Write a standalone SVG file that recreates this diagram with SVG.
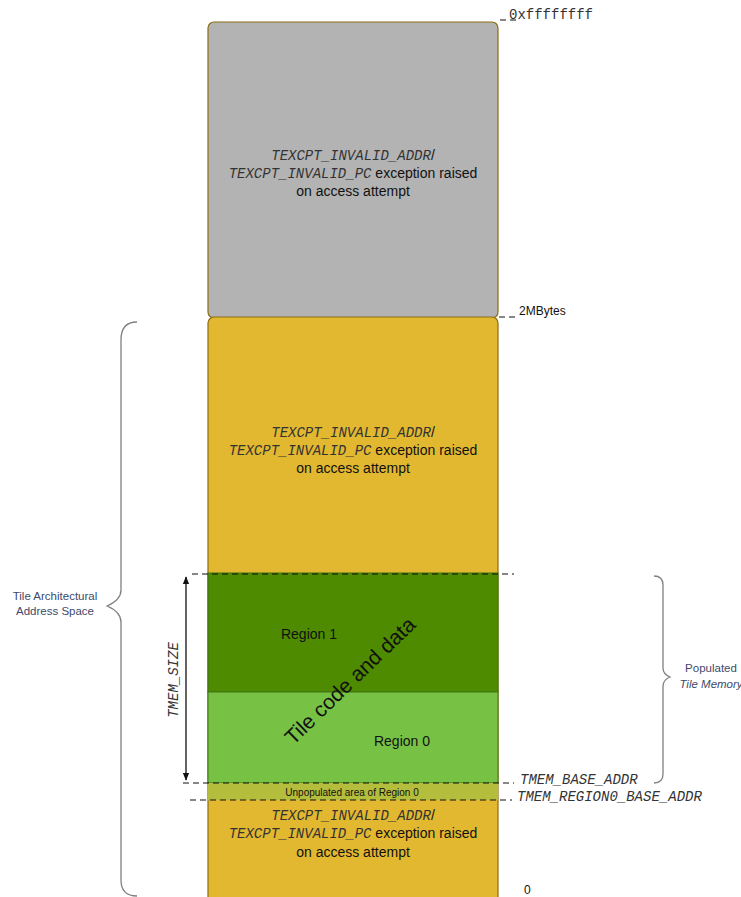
<svg xmlns="http://www.w3.org/2000/svg" width="741" height="897" viewBox="0 0 741 897">
<defs>
<style>
.box{stroke:#8c6d12;stroke-width:1.2}
.sans{font-family:"Liberation Sans",Arial,sans-serif;fill:#111}
.mono{font-family:"Liberation Mono","Courier New",monospace;font-style:italic;fill:#333}
.dash{stroke:#111;stroke-width:1.2;stroke-dasharray:6,4;fill:none}
.brace{stroke:#808080;stroke-width:1.3;fill:none}
.lbl{font-family:"Liberation Sans",Arial,sans-serif;fill:#3d4a6b;font-size:11.5px}
</style>
<marker id="ah" viewBox="0 0 10 10" refX="9" refY="5" markerWidth="8" markerHeight="8" orient="auto-start-reverse" markerUnits="userSpaceOnUse"><path d="M0,1 L10,5 L0,9 Z" fill="#111"/></marker>
</defs>
<g id="gray-region">
<rect class="box" x="208" y="22" width="290" height="296" rx="6" fill="#b3b3b3"/>
<text text-anchor="middle" y="160"><tspan x="353" class="mono" font-size="14">TEXCPT_INVALID_ADDR</tspan><tspan class="sans" font-size="14">/</tspan></text>
<text text-anchor="middle" x="353" y="178"><tspan class="mono" font-size="14">TEXCPT_INVALID_PC</tspan><tspan class="sans" font-size="14"> exception raised</tspan></text>
<text class="sans" font-size="14" text-anchor="middle" x="353" y="196">on access attempt</text>
</g>
<g id="yellow-region">
<rect class="box" x="208" y="317" width="290" height="590" rx="6" fill="#e2b830"/>
<text text-anchor="middle" y="437"><tspan x="353" class="mono" font-size="14">TEXCPT_INVALID_ADDR</tspan><tspan class="sans" font-size="14">/</tspan></text>
<text text-anchor="middle" x="353" y="455"><tspan class="mono" font-size="14">TEXCPT_INVALID_PC</tspan><tspan class="sans" font-size="14"> exception raised</tspan></text>
<text class="sans" font-size="14" text-anchor="middle" x="353" y="473">on access attempt</text>
<text text-anchor="middle" y="820"><tspan x="353" class="mono" font-size="14">TEXCPT_INVALID_ADDR</tspan><tspan class="sans" font-size="14">/</tspan></text>
<text text-anchor="middle" x="353" y="838"><tspan class="mono" font-size="14">TEXCPT_INVALID_PC</tspan><tspan class="sans" font-size="14"> exception raised</tspan></text>
<text class="sans" font-size="14" text-anchor="middle" x="353" y="857">on access attempt</text>
</g>
<g id="region1">
<rect x="208" y="573" width="290" height="119" fill="#4e8b00" stroke="#3e7410" stroke-width="1"/>
<text class="sans" font-size="14" text-anchor="middle" x="309" y="639">Region 1</text>
</g>
<g id="region0">
<rect x="208" y="692" width="290" height="91" fill="#77c244" stroke="#3e7410" stroke-width="1"/>
<text class="sans" font-size="14" text-anchor="middle" x="402" y="746">Region 0</text>
</g>
<g id="unpopulated">
<rect x="208" y="783" width="290" height="17" fill="#b4bd3c"/>
<text class="sans" font-size="10" text-anchor="middle" x="352" y="796">Unpopulated area of Region 0</text>
</g>
<g id="tile-code">
<text class="sans" font-size="21" text-anchor="middle" transform="translate(355,686) rotate(-44)">Tile code and data</text>
</g>
<g id="connectors">
<line class="dash" x1="192" y1="574" x2="514" y2="574"/>
<line class="dash" x1="183" y1="783" x2="514" y2="783"/>
<line class="dash" x1="190" y1="800" x2="512" y2="800"/>
<line class="dash" x1="500" y1="20" x2="518" y2="20"/>
<line class="dash" x1="499" y1="317" x2="517" y2="317"/>
<line x1="186" y1="577" x2="186" y2="780" stroke="#111" stroke-width="1.3" marker-start="url(#ah)" marker-end="url(#ah)"/>
<path class="brace" d="M137,322 Q121,322 121,340 L121,590 Q121,600 107,606 Q121,612 121,622 L121,880 Q121,896 137,896"/>
<path class="brace" d="M654,576 Q663,576 663,585 L663,668 Q663,674 670,677 Q663,680 663,686 L663,774 Q663,783 654,783"/>
</g>
<g id="labels">
<text class="mono" font-size="14" x="509" y="19" style="font-style:normal">0xffffffff</text>
<text class="sans" font-size="12" x="519" y="315">2MBytes</text>
<text class="mono" font-size="14" x="520" y="784">TMEM_BASE_ADDR</text>
<text class="mono" font-size="14" x="517" y="801">TMEM_REGION0_BASE_ADDR</text>
<text class="sans" font-size="12" x="524" y="894">0</text>
<text class="mono" font-size="14" text-anchor="middle" transform="translate(178,680) rotate(-90)">TMEM_SIZE</text>
<text class="lbl" text-anchor="middle" x="55" y="600">Tile Architectural</text>
<text class="lbl" text-anchor="middle" x="55" y="615">Address Space</text>
<text class="lbl" text-anchor="middle" x="711" y="672">Populated</text>
<text class="lbl" text-anchor="middle" x="711" y="688" font-style="italic">Tile Memory</text>
</g>
</svg>
